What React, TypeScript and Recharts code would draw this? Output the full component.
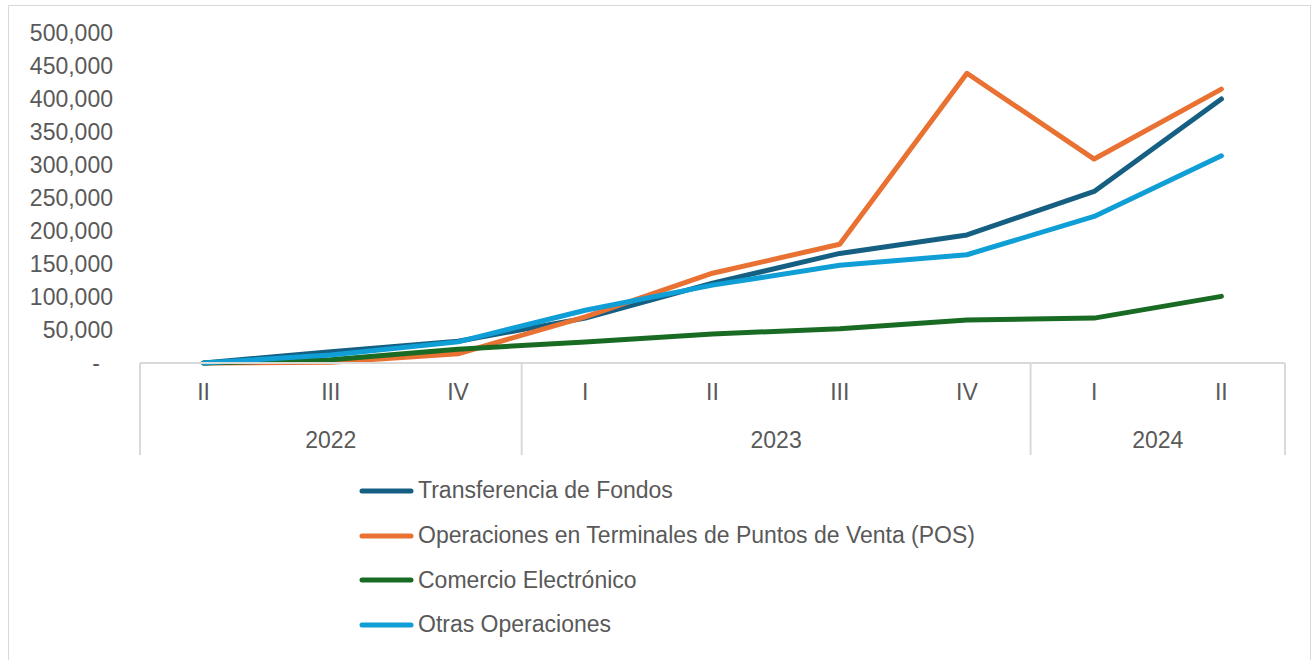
import React from 'react';
import { LineChart, Line, XAxis, YAxis, Legend } from 'recharts';

const QUARTERS = ['II', 'III', 'IV', 'I', 'II', 'III', 'IV', 'I', 'II'];
const YEARS = ['2022', '2022', '2022', '2023', '2023', '2023', '2023', '2024', '2024'];
const TRANSFERENCIA = [0, 17000, 33000, 68000, 121000, 166000, 194000, 260000, 400000];
const POS = [0, 1000, 14000, 70000, 136000, 180000, 439000, 309000, 415000];
const COMERCIO = [0, 5000, 21000, 32000, 44000, 52000, 65000, 68000, 101000];
const OTRAS = [0, 12000, 32000, 80000, 118000, 148000, 164000, 222000, 314000];
const Y_TICKS = [0, 50000, 100000, 150000, 200000, 250000, 300000, 350000, 400000, 450000, 500000];

const SERIES = [
  { key: 'transferencia', name: 'Transferencia de Fondos', color: '#156082', values: TRANSFERENCIA },
  { key: 'pos', name: 'Operaciones en Terminales de Puntos de Venta (POS)', color: '#E97132', values: POS },
  { key: 'comercio', name: 'Comercio Electrónico', color: '#196B24', values: COMERCIO },
  { key: 'otras', name: 'Otras Operaciones', color: '#0F9ED5', values: OTRAS },
];

const data = QUARTERS.map((q, i) => {
  const row: any = { idx: i, q, year: YEARS[i] };
  SERIES.forEach((s) => { row[s.key] = s.values[i]; });
  return row;
});

const W = 1314;
const H = 660;
const X_HEIGHT = 30;
const MARGIN = { top: 33, right: 29, bottom: 297 - X_HEIGHT, left: 30 };
const Y_WIDTH = 110;
const PLOT_W = W - MARGIN.left - Y_WIDTH - MARGIN.right;
const BAND = PLOT_W / QUARTERS.length;
const FONT = '"Liberation Sans", Arial, sans-serif';
const FS = 23;
const TEXT = '#595959';
const GRID = '#d9d9d9';

const fmt = (v: number) => v.toLocaleString('en-US');

const YTick = (props: any) => {
  const { x, y, payload } = props;
  const v = payload.value;
  return (
    <text x={v === 0 ? x - 13 : x} y={y} textAnchor="end" dominantBaseline="central"
      fill={TEXT} fontSize={FS} fontFamily={FONT}>
      {v === 0 ? '-' : fmt(v)}
    </text>
  );
};

const XTick = (props: any) => {
  const { x, y, payload } = props;
  const i = Number(payload.value);
  const year = YEARS[i];
  const first = i === 0 || YEARS[i - 1] !== year;
  const last = i === YEARS.length - 1;
  const groupLen = YEARS.filter((yy) => yy === year).length;
  const left = x - BAND / 2;
  return (
    <g>
      <text x={x} y={y + 29} textAnchor="middle" dominantBaseline="central"
        fill={TEXT} fontSize={FS} fontFamily={FONT}>{QUARTERS[i]}</text>
      {first && (
        <>
          <line x1={left} x2={left} y1={y} y2={y + 92} stroke={GRID} strokeWidth={2} />
          <text x={left + (groupLen * BAND) / 2} y={y + 77} textAnchor="middle" dominantBaseline="central"
            fill={TEXT} fontSize={FS} fontFamily={FONT}>{year}</text>
        </>
      )}
      {last && <line x1={x + BAND / 2} x2={x + BAND / 2} y1={y} y2={y + 92} stroke={GRID} strokeWidth={2} />}
    </g>
  );
};

const LegendContent = () => (
  <div style={{ fontFamily: FONT, fontSize: FS, color: TEXT }}>
    {SERIES.map((s) => (
      <div key={s.key} style={{ height: 44.7, display: 'flex', alignItems: 'center' }}>
        <svg width={60} height={10} style={{ display: 'block' }}>
          <line x1={4} x2={53} y1={5} y2={5} stroke={s.color} strokeWidth={5} strokeLinecap="round" />
        </svg>
        <span style={{ whiteSpace: 'nowrap' }}>{s.name}</span>
      </div>
    ))}
  </div>
);

export default function App() {
  return (
    <div style={{ position: 'absolute', left: 0, top: 0, width: W, height: H, overflow: 'hidden', background: '#fff' }}>
      <div style={{ position: 'absolute', left: 8, top: 5, width: 1301, height: 700, border: `1px solid ${GRID}` }} />
      <div style={{ position: 'absolute', left: 0, top: 0 }}>
        <LineChart width={W} height={H} data={data} margin={MARGIN}>
          <XAxis dataKey="idx" type="category" height={X_HEIGHT} interval={0} tickLine={false} tickSize={0} tickMargin={0}
            padding={{ left: BAND / 2, right: BAND / 2 }}
            axisLine={{ stroke: GRID, strokeWidth: 2 }} tick={XTick} />
          <YAxis width={Y_WIDTH} domain={[0, 500000]} ticks={Y_TICKS} axisLine={false} tickLine={false}
            tickSize={0} tickMargin={27} tick={YTick} interval={0} />
          <Legend layout="vertical" align="center" verticalAlign="middle" content={LegendContent}
            wrapperStyle={{ left: 358, top: 468.5, width: 'auto', height: 'auto' }} />
          {SERIES.map((s) => (
            <Line key={s.key} type="linear" dataKey={s.key} name={s.name} stroke={s.color} strokeWidth={5}
              strokeLinecap="round" strokeLinejoin="round" dot={false}
              isAnimationActive={false} />
          ))}
        </LineChart>
      </div>
    </div>
  );
}
